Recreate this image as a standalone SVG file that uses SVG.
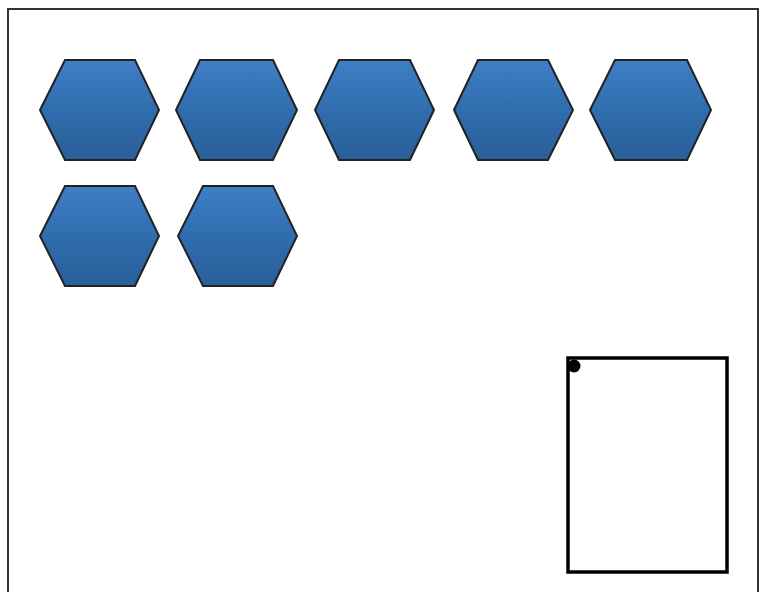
<svg xmlns="http://www.w3.org/2000/svg" width="760" height="592" viewBox="0 0 760 592">
<defs>
<linearGradient id="g" x1="0" y1="0" x2="0" y2="1">
<stop offset="0" stop-color="#3f7fc6"/>
<stop offset="0.5" stop-color="#2f6dae"/>
<stop offset="1" stop-color="#2a5e98"/>
</linearGradient>
</defs>
<style>
.hex{fill:url(#g);stroke:#222;stroke-width:2;stroke-linejoin:miter}
</style>
<rect x="0" y="0" width="760" height="592" fill="#fff"/>
<rect x="8" y="9" width="750" height="600" fill="#fff" stroke="#333" stroke-width="2"/>
<g id="hex1"><polygon class="hex" points="40,110 65,60 135,60 159,110 135,160 65,160"/></g>
<g id="hex2"><polygon class="hex" points="176,110 200,60 273,60 297,110 273,160 200,160"/></g>
<g id="hex3"><polygon class="hex" points="315,110 339,60 410,60 434,110 410,160 339,160"/></g>
<g id="hex4"><polygon class="hex" points="454,110 478,60 548,60 573,110 548,160 478,160"/></g>
<g id="hex5"><polygon class="hex" points="590,110 615,60 687,60 711,110 687,160 615,160"/></g>
<g id="hex6"><polygon class="hex" points="40,236 65,186 135,186 159,236 135,286 65,286"/></g>
<g id="hex7"><polygon class="hex" points="178,236 203,186 273,186 297,236 273,286 203,286"/></g>
<g id="connectors"></g>
<g id="box">
<rect x="568" y="358" width="159" height="214" fill="#fff" stroke="#000" stroke-width="3.5"/>
<circle cx="574" cy="366" r="6.5" fill="#000"/>
</g>
</svg>
